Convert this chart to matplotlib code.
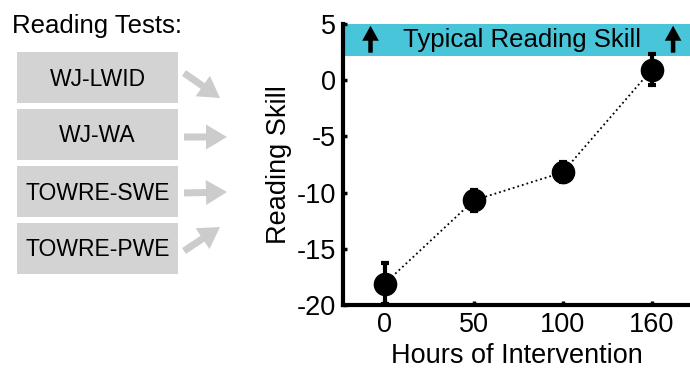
import matplotlib.pyplot as plt
from matplotlib.patches import Rectangle, FancyArrow

plt.rcParams['font.family'] = ['Liberation Sans', 'DejaVu Sans']

# data
hours = ['0', '50', '100', '160']
skill = [-18.1, -10.7, -8.2, 0.95]
skill_err = [1.85, 0.95, 0.9, 1.35]
tests = ['WJ-LWID', 'WJ-WA', 'TOWRE-SWE', 'TOWRE-PWE']
typical_low, typical_high = 2.2, 5

fig = plt.figure(figsize=(6.9, 3.7), dpi=100)

# left panel drawn in pixel coords
ov = fig.add_axes([0, 0, 1, 1])
ov.set_xlim(0, 690)
ov.set_ylim(370, 0)
ov.axis('off')
ov.text(12, 26, 'Reading Tests:', fontsize=18.5, va='center', ha='left')
box_tops = [52, 109, 166, 223]
arrows = [((184, 73), (36, 25)), ((184, 137), (43, 0)), ((184, 193), (43, -1)), ((184, 251), (36, -24))]
for name, top, (start, d) in zip(tests, box_tops, arrows):
    ov.add_patch(Rectangle((17, top), 161, 51, color='#d3d3d3', lw=0))
    ov.text(97.5, top + 27, name, fontsize=16.5, ha='center', va='center')
    ov.add_patch(FancyArrow(start[0], start[1], d[0], d[1], width=7, head_width=25,
                            head_length=21, length_includes_head=True,
                            color='#cccccc', lw=0))

# main plot
ax = fig.add_axes([0.497, 0.176, 0.503, 0.759])
x = range(len(hours))
ax.axhspan(typical_low, typical_high, color='#48c5d8', lw=0, zorder=0)
ax.errorbar(x, skill, yerr=skill_err, fmt='o', color='black', markersize=16,
            elinewidth=3, capsize=3, capthick=3, zorder=3)
ax.plot(x, skill, ':', color='black', lw=1.3, zorder=2)
ax.text(1.54, 3.55, 'Typical Reading Skill', fontsize=18.5, ha='center', va='center')
for ax_x in [-0.16, 3.24]:
    ax.annotate('', xy=(ax_x, 4.85), xytext=(ax_x, 2.45),
                arrowprops=dict(arrowstyle='simple,head_length=0.9,head_width=1.0,tail_width=0.27',
                                color='black', lw=0, mutation_scale=12,
                                shrinkA=0, shrinkB=0))

ax.set_xlim(-0.47, 3.43)
ax.set_ylim(-20, 5)
ax.set_xticks(list(x))
ax.set_xticklabels(hours)
ax.set_yticks([-20, -15, -10, -5, 0, 5])
ax.set_yticklabels(['-20', '-15', '-10', '-5', '0', '5'])
ax.tick_params(labelsize=19.5, direction='in', length=3, width=2.5, pad=5)
ax.set_xlabel('Hours of Intervention', fontsize=19.5, labelpad=4)
ax.set_ylabel('Reading Skill', fontsize=19.5, labelpad=3)
ax.spines['top'].set_visible(False)
ax.spines['right'].set_visible(False)
ax.spines['left'].set_linewidth(3)
ax.spines['bottom'].set_linewidth(3)
ax.patch.set_alpha(0)

fig.savefig('out.png', dpi=100)
